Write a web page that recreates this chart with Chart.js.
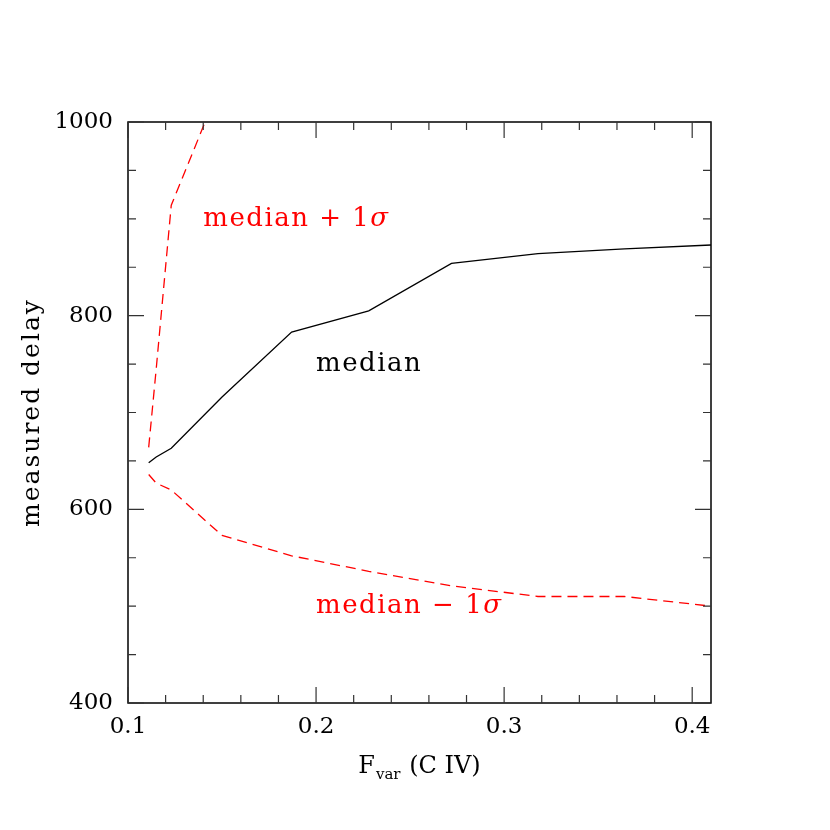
<!DOCTYPE html>
<html>
<head>
<meta charset="utf-8">
<script src="https://cdn.jsdelivr.net/npm/chart.js@4"></script>
<style>
  html, body { margin: 0; padding: 0; background: #fff; }
</style>
</head>
<body>
<canvas id="delayChart" width="830" height="830"></canvas>
<script>
// values
var fvar        = [0.111, 0.115, 0.123, 0.150, 0.187, 0.228, 0.272, 0.318, 0.364, 0.41];
var medianDelay = [648, 654, 663, 716, 783, 805, 854, 864, 869, 873];
var upperDelay  = [664, 745, 914, 1043];
var lowerDelay  = [636, 627, 620, 573, 552, 536, 521, 510, 510, 500];

var xMajor = [0.1, 0.2, 0.3, 0.4];
var xMinor = [0.12, 0.14, 0.16, 0.18, 0.22, 0.24, 0.26, 0.28, 0.32, 0.34, 0.36, 0.38];
var yMajor = [400, 600, 800, 1000];
var yMinor = [450, 500, 550, 650, 700, 750, 850, 900, 950];

var SERIF = '"DejaVu Serif", "Liberation Serif", serif';

function pts(ys) {
  return ys.map(function(v, i) { return { x: fvar[i], y: v }; });
}

// box, inward ticks on all four sides, axis titles and curve labels
var framePlugin = {
  id: 'frame',
  afterDraw: function(chart) {
    var ctx = chart.ctx, a = chart.chartArea;
    var sx = chart.scales.x, sy = chart.scales.y;
    ctx.save();
    ctx.strokeStyle = '#000';
    ctx.lineWidth = 1.5;
    ctx.strokeRect(a.left, a.top, a.right - a.left, a.bottom - a.top);

    ctx.strokeStyle = '#333';
    ctx.lineWidth = 1.2;
    function xt(v, len) {
      var p = sx.getPixelForValue(v);
      ctx.beginPath();
      ctx.moveTo(p, a.bottom); ctx.lineTo(p, a.bottom - len);
      ctx.moveTo(p, a.top); ctx.lineTo(p, a.top + len);
      ctx.stroke();
    }
    function yt(v, len) {
      var p = sy.getPixelForValue(v);
      ctx.beginPath();
      ctx.moveTo(a.left, p); ctx.lineTo(a.left + len, p);
      ctx.moveTo(a.right, p); ctx.lineTo(a.right - len, p);
      ctx.stroke();
    }
    xMajor.forEach(function(v) { xt(v, 16); });
    xMinor.forEach(function(v) { xt(v, 8); });
    yMajor.forEach(function(v) { yt(v, 16); });
    yMinor.forEach(function(v) { yt(v, 8); });

    // x title: F_var (C IV)
    ctx.fillStyle = '#000';
    ctx.textBaseline = 'alphabetic';
    ctx.textAlign = 'left';
    var big = '24px ' + SERIF, small = '15px ' + SERIF;
    ctx.font = big;  var wF = ctx.measureText('F').width;
    ctx.font = small; var wS = ctx.measureText('var').width;
    ctx.font = big;  var wR = ctx.measureText(' (C IV)').width;
    var cx = (a.left + a.right) / 2;
    var x0 = cx - (wF + wS + 2 + wR) / 2, base = 773;
    ctx.font = big;   ctx.fillText('F', x0, base);
    ctx.font = small; ctx.fillText('var', x0 + wF + 1, base + 6);
    ctx.font = big;   ctx.fillText(' (C IV)', x0 + wF + wS + 2, base);

    // y title
    ctx.save();
    ctx.translate(32, (a.top + a.bottom) / 2);
    ctx.rotate(-Math.PI / 2);
    ctx.letterSpacing = '2px';
    ctx.textAlign = 'center';
    ctx.textBaseline = 'middle';
    ctx.font = '25px ' + SERIF;
    ctx.fillText('measured delay', 0, 0);
    ctx.restore();

    // curve labels
    ctx.letterSpacing = '1.5px';
    function label(text, sig, xv, yv, color) {
      var px = sx.getPixelForValue(xv), py = sy.getPixelForValue(yv);
      ctx.fillStyle = color;
      ctx.textAlign = 'left';
      ctx.textBaseline = 'middle';
      ctx.font = '26px ' + SERIF;
      ctx.fillText(text, px, py);
      if (sig) {
        var w = ctx.measureText(text).width;
        ctx.font = 'italic 26px ' + SERIF;
        ctx.fillText('σ', px + w, py);
      }
    }
    label('median + 1', true, 0.14, 900, '#ff0000');
    label('median', false, 0.2, 750, '#000');
    label('median \u2212 1', true, 0.2, 500, '#ff0000');
    ctx.restore();
  }
};

new Chart(document.getElementById('delayChart'), {
  type: 'line',
  data: {
    datasets: [
      {
        label: 'median',
        data: pts(medianDelay),
        borderColor: '#000',
        borderWidth: 1.3,
        pointRadius: 0,
        fill: false,
        tension: 0
      },
      {
        label: 'median + 1 sigma',
        data: pts(upperDelay),
        borderColor: '#ff0000',
        borderWidth: 1.3,
        borderDash: [10, 6],
        pointRadius: 0,
        fill: false,
        tension: 0
      },
      {
        label: 'median - 1 sigma',
        data: pts(lowerDelay),
        borderColor: '#ff0000',
        borderWidth: 1.3,
        borderDash: [10, 6],
        pointRadius: 0,
        fill: false,
        tension: 0
      }
    ]
  },
  options: {
    responsive: false,
    animation: false,
    devicePixelRatio: 1,
    layout: { padding: { top: 122, right: 119, left: 0, bottom: 0 } },
    plugins: {
      legend: { display: false },
      tooltip: { enabled: false }
    },
    scales: {
      x: {
        type: 'linear',
        min: 0.1,
        max: 0.41,
        grid: { display: false, drawTicks: false },
        border: { display: false },
        afterBuildTicks: function(s) { s.ticks = xMajor.map(function(v) { return { value: v }; }); },
        afterFit: function(s) { s.height = 127; },
        ticks: {
          padding: 10,
          color: '#000',
          font: { family: SERIF, size: 23 },
          callback: function(v) { return v.toFixed(1); }
        }
      },
      y: {
        type: 'linear',
        min: 400,
        max: 1000,
        grid: { display: false, drawTicks: false },
        border: { display: false },
        afterBuildTicks: function(s) { s.ticks = yMajor.map(function(v) { return { value: v }; }); },
        afterFit: function(s) { s.width = 128; },
        ticks: {
          padding: 15,
          color: '#000',
          font: { family: SERIF, size: 23 },
          callback: function(v) { return String(v); }
        }
      }
    }
  },
  plugins: [framePlugin]
});
</script>
</body>
</html>
